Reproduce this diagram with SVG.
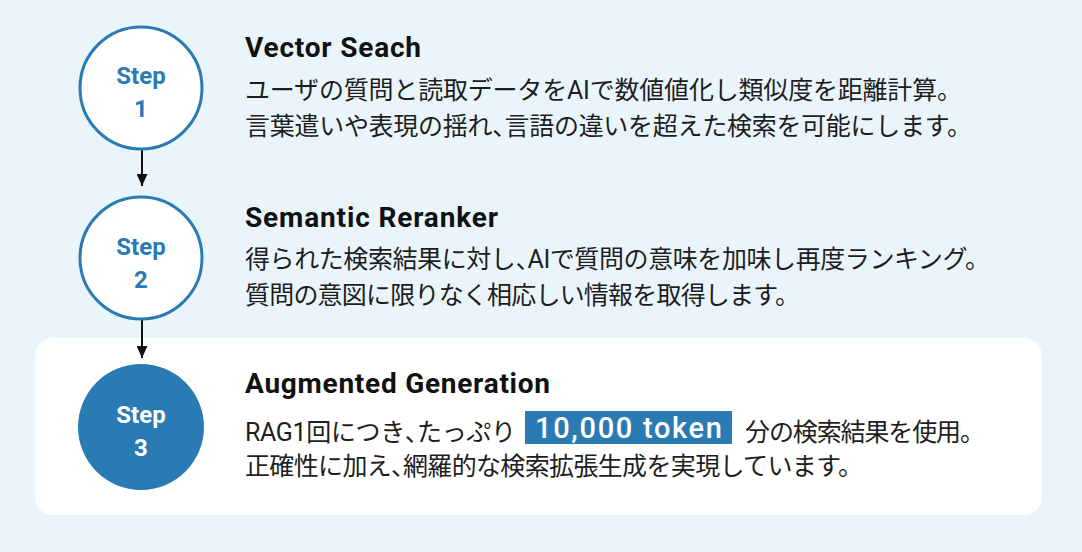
<svg xmlns="http://www.w3.org/2000/svg" width="1082" height="552" viewBox="0 0 1082 552">
<defs>
<style>
.bg{fill:#eaf5fb}
.card{fill:#ffffff}
.ring{fill:#ffffff;stroke:#2a7ab4;stroke-width:3}
.solid{fill:#2a7ab4}
.step{font-family:Roboto,"Noto Sans CJK JP",sans-serif;font-weight:700;font-size:24px;text-anchor:middle}
.blue{fill:#2a7ab4}
.white{fill:#ffffff}
.title{font-family:Roboto,"Noto Sans CJK JP",sans-serif;font-weight:700;font-size:28px;fill:#111111}
.body{font-family:Roboto,"Noto Sans CJK JP",sans-serif;font-weight:400;font-size:25px;fill:#1e1e1e}
.h{font-feature-settings:"halt" 1}
.tok{font-family:Roboto,"Noto Sans CJK JP",sans-serif;font-weight:500;font-size:29px;fill:#ffffff}
.conn{stroke:#111111;stroke-width:2;fill:none}
</style>
<marker id="arr" viewBox="0 0 12 11" refX="12" refY="5.5" markerWidth="12" markerHeight="11" markerUnits="userSpaceOnUse" orient="auto">
<path d="M0,0 L12,5.5 L0,11 Z" fill="#111111"/>
</marker>
</defs>
<rect class="bg" x="0" y="0" width="1082" height="552"/>
<rect class="card" x="35" y="338" width="1007" height="177" rx="18"/>
<g id="connectors">
<line class="conn" x1="142" y1="150" x2="142" y2="186" marker-end="url(#arr)"/>
<line class="conn" x1="142" y1="320" x2="142" y2="358" marker-end="url(#arr)"/>
</g>
<g id="step1">
<circle class="ring" cx="141" cy="88" r="61"/>
<text class="step blue" x="141" y="84">Step</text>
<text class="step blue" x="141" y="117">1</text>
<text class="title" x="245" y="57" textLength="176">Vector Seach</text>
<text class="body" x="245" y="99" textLength="717">ユーザの質問と読取データをAIで数値値化し類似度を距離計算。</text>
<text class="body" x="245" y="135" textLength="727">言葉遣いや表現の揺れ<tspan class="h">、</tspan>言語の違いを超えた検索を可能にします。</text>
</g>
<g id="step2">
<circle class="ring" cx="141" cy="258" r="61"/>
<text class="step blue" x="141" y="255">Step</text>
<text class="step blue" x="141" y="288">2</text>
<text class="title" x="245" y="227" textLength="253">Semantic Reranker</text>
<text class="body" x="245" y="268" textLength="745">得られた検索結果に対し<tspan class="h">、</tspan>AIで質問の意味を加味し再度ランキング。</text>
<text class="body" x="245" y="304" textLength="555">質問の意図に限りなく相応しい情報を取得します。</text>
</g>
<g id="step3">
<circle class="solid" cx="141" cy="427" r="63"/>
<text class="step white" x="141" y="423">Step</text>
<text class="step white" x="141" y="456">3</text>
<text class="title" x="245" y="393" textLength="305">Augmented Generation</text>
<text class="body" x="245" y="441" textLength="271">RAG1回につき<tspan class="h">、</tspan>たっぷり</text>
<rect class="solid" x="525" y="411" width="207" height="33"/>
<text class="tok" x="535" y="438" textLength="187">10,000 token</text>
<text class="body" x="745" y="441" textLength="240">分の検索結果を使用。</text>
<text class="body" x="245" y="475" textLength="618">正確性に加え<tspan class="h">、</tspan>網羅的な検索拡張生成を実現しています。</text>
</g>
</svg>
